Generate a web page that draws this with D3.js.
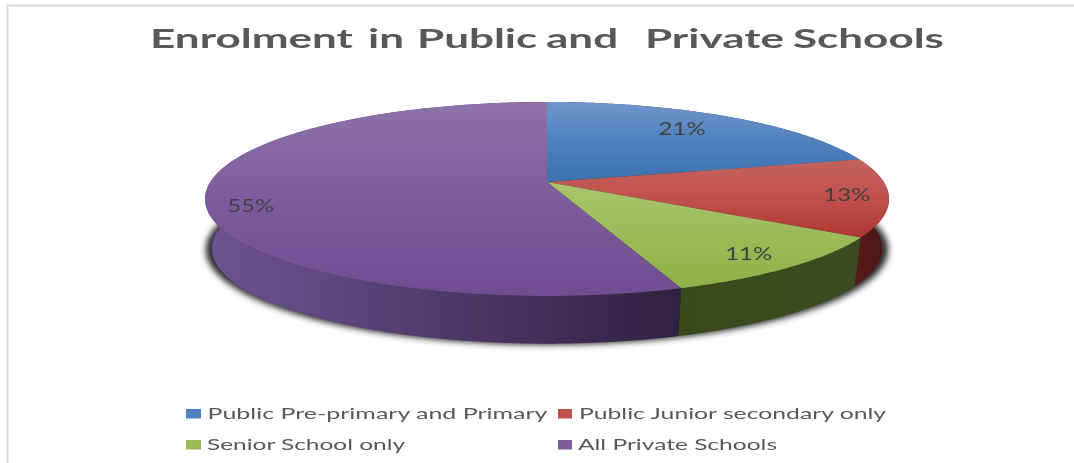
<!DOCTYPE html>
<html>
<head>
<meta charset="utf-8">
<script src="https://cdn.jsdelivr.net/npm/d3@7"></script>
<style>
	html, body { margin: 0; padding: 0; background: #fff; }
	svg { display: block; }
	text { font-family: Lato, "Open Sans", sans-serif; white-space: pre; }
</style>
</head>
<body>
<svg id="chart" width="1074" height="463"></svg>
<script>
	var titleWords = ["Enrolment", "in", "Public", "and", "Private", "Schools"];
	var categories = ["Public Pre-primary and Primary", "Public Junior secondary only", "Senior School only", "All Private Schools"];
	var shares = [0.21, 0.13, 0.106, 0.554];

	var topColors = [
		["#7096cb", "#3d70b0"],
		["#c4645f", "#ae3632"],
		["#a9c56c", "#90b146"],
		["#8e72a9", "#6f4d90"]
	];
	var midColors = ["#4f81bd", "#c0504d", "#9bbb59", "#7d5c9e"];
	var wallColors = [
		["#2a4468", "#2a4468"],
		["#571a1a", "#4a1616"],
		["#3b4a1c", "#3f4a20"],
		["#6e5394", "#2e2140"]
	];

	var width = 1074,
		height = 463,
		hubX = 547,
		hubY = 182,
		bottomHubY = 232,
		tilt = 0.175,
		radiusX = 336.7,
		radiusY = 94,
		bottomScale = 0.98;

	// where each % label sits along its slice, and a small vertical nudge
	var labelRadius = [0.72, 0.88, 0.85, 0.87],
		labelNudge = [-4, 0, 1, 10];

	var svg = d3.select("#chart"),
		defs = svg.append("defs");

	// unit circle (angle clockwise from 12 o'clock) to screen, with perspective
	function project(angle, r, cy, scale) {
		var x = r * Math.sin(angle),
			y = r * Math.cos(angle),
			d = 1 + tilt * y;
		return [hubX + scale * radiusX * x / d, cy - scale * radiusY * y / d];
	}

	function rimPoints(d, cy, scale) {
		var steps = Math.ceil((d.endAngle - d.startAngle) / 0.01);
		return d3.range(steps + 1).map(function(i) {
			return project(d.startAngle + (d.endAngle - d.startAngle) * i / steps, 1, cy, scale);
		});
	}

	var line = d3.line();
	var arcs = d3.pie().sort(null)(shares);

	// gradients
	topColors.forEach(function(c, i) {
		var g = defs.append("linearGradient").attr("id", "top" + i)
			.attr("x1", 0).attr("y1", 0).attr("x2", 0).attr("y2", 1);
		g.append("stop").attr("offset", "0%").attr("stop-color", c[0]);
		g.append("stop").attr("offset", "50%").attr("stop-color", midColors[i]);
		g.append("stop").attr("offset", "100%").attr("stop-color", c[1]);
	});
	wallColors.forEach(function(c, i) {
		var g = defs.append("linearGradient").attr("id", "wall" + i)
			.attr("x1", 0).attr("y1", 0).attr("x2", 1).attr("y2", 0);
		g.append("stop").attr("offset", "0%").attr("stop-color", c[0]);
		g.append("stop").attr("offset", "100%").attr("stop-color", c[1]);
	});
	defs.append("filter").attr("id", "shadow")
		.attr("x", "-10%").attr("y", "-10%").attr("width", "120%").attr("height", "120%")
		.append("feGaussianBlur").attr("stdDeviation", 3);
	defs.append("filter").attr("id", "soft")
		.attr("x", "-5%").attr("y", "-20%").attr("width", "110%").attr("height", "140%")
		.append("feGaussianBlur").attr("stdDeviation", 0.35);

	// chart frame, only the top and left edges show in the picture
	svg.append("path")
		.attr("d", "M7.5," + height + "V5.5H" + width)
		.attr("fill", "none")
		.attr("stroke", "#dcdcdc")
		.attr("stroke-width", 2);

	// title is stretched sideways, words placed one by one to keep the uneven gaps
	var wordStarts = [150, 368, 417, 546, 645, 793];
	var title = svg.append("text")
		.attr("y", 48)
		.attr("font-size", 26)
		.attr("font-weight", 700)
		.attr("fill", "#595959")
		.attr("filter", "url(#soft)")
		.text(titleWords[0]);
	var stretch = 203 / title.node().getComputedTextLength();
	title.text(null)
		.attr("transform", "scale(" + stretch + ",1)");
	title.selectAll("tspan")
		.data(titleWords)
		.enter()
		.append("tspan")
		.attr("x", function(d, i) { return wordStarts[i] / stretch; })
		.text(function(d, i) { return i < titleWords.length - 1 ? d + " " : d; });

	// blurred shadow under the disc, a bit wider than the disc base
	svg.append("path")
		.attr("d", line(rimPoints({startAngle: 0, endAngle: 2 * Math.PI}, bottomHubY + 1, bottomScale)) + "Z")
		.attr("transform", "translate(" + hubX + ",0) scale(1.018,1) translate(" + (-hubX) + ",0)")
		.attr("fill", "#2a2a2a")
		.attr("filter", "url(#shadow)");

	// side walls first, the top faces then cover the hidden back part
	svg.append("g").selectAll("path")
		.data(arcs)
		.enter()
		.append("path")
		.attr("d", function(d) {
			return line(rimPoints(d, hubY, 1).concat(rimPoints(d, bottomHubY, bottomScale).reverse())) + "Z";
		})
		.attr("fill", function(d, i) { return "url(#wall" + i + ")"; });

	svg.append("g").selectAll("path")
		.data(arcs)
		.enter()
		.append("path")
		.attr("d", function(d) {
			return line([[hubX, hubY]].concat(rimPoints(d, hubY, 1))) + "Z";
		})
		.attr("fill", function(d, i) { return "url(#top" + i + ")"; });

	var percent = d3.format(".0%");
	svg.append("g").selectAll("text")
		.data(arcs)
		.enter()
		.append("text")
		.each(function(d, i) {
			var p = project((d.startAngle + d.endAngle) / 2, labelRadius[i], hubY, 1);
			d3.select(this)
				.attr("x", p[0] - 23.5)
				.attr("y", p[1] + labelNudge[i] + 6);
		})
		.attr("textLength", 47)
		.attr("lengthAdjust", "spacingAndGlyphs")
		.attr("font-size", 16.5)
		.attr("fill", "#404040")
		.attr("filter", "url(#soft)")
		.text(function(d) { return percent(d.data); });

	// legend, two rows by two columns
	var legendX = d3.scaleOrdinal().domain([0, 1]).range([186, 558]),
		legendY = d3.scaleOrdinal().domain([0, 1]).range([409, 440]),
		legendTextX = [207.5, 579, 207, 578],
		legendTextW = [340, 307, 198, 199];

	var legend = svg.append("g").selectAll("g")
		.data(categories)
		.enter()
		.append("g");

	legend.append("rect")
		.attr("x", function(d, i) { return legendX(i % 2); })
		.attr("y", function(d, i) { return legendY(i < 2 ? 0 : 1); })
		.attr("width", function(d, i) { return i % 2 ? 14 : 15; })
		.attr("height", 9.5)
		.attr("fill", function(d, i) { return midColors[i]; });

	legend.append("text")
		.attr("x", function(d, i) { return legendTextX[i]; })
		.attr("y", function(d, i) { return legendY(i < 2 ? 0 : 1) + 10; })
		.attr("textLength", function(d, i) { return legendTextW[i]; })
		.attr("lengthAdjust", "spacingAndGlyphs")
		.attr("font-size", 15)
		.attr("fill", "#595959")
		.attr("filter", "url(#soft)")
		.text(function(d) { return d; });
</script>
</body>
</html>
